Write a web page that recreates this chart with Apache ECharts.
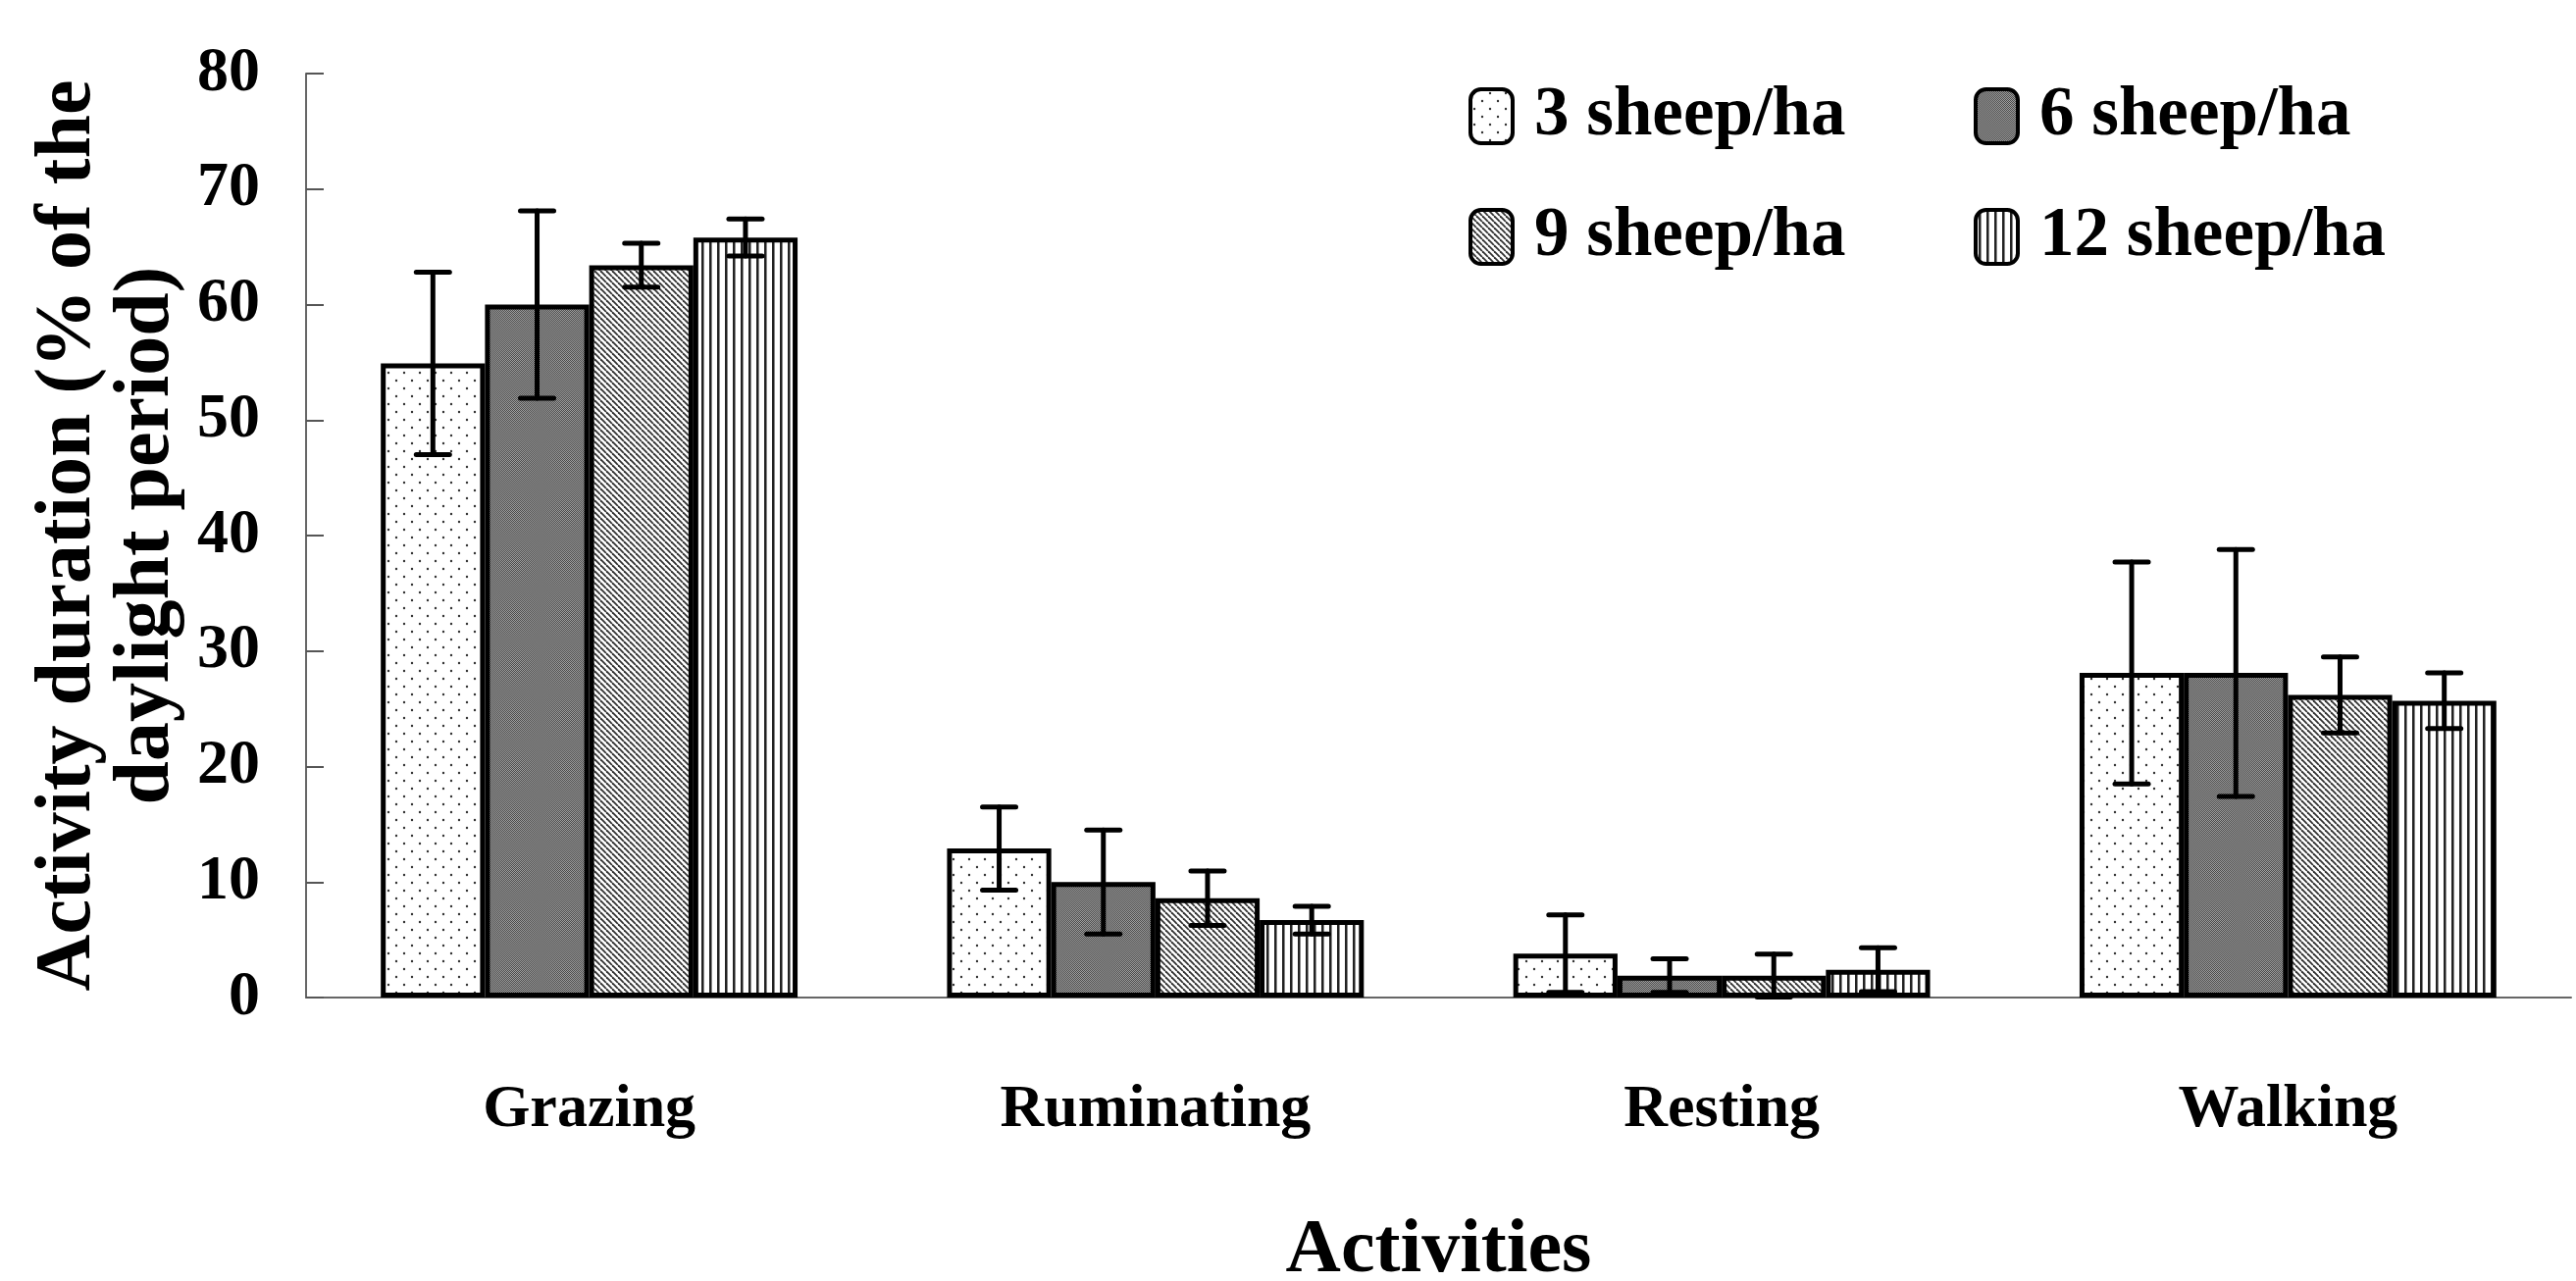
<!DOCTYPE html>
<html>
<head>
<meta charset="utf-8">
<script src="https://cdn.jsdelivr.net/npm/echarts@6/dist/echarts.min.js"></script>
<style>
html,body{margin:0;padding:0;background:#fff;}
#chart{width:2626px;height:1306px;}
</style>
</head>
<body>
<div id="chart"></div>
<script>
// ---- data ----
const categories = ['Grazing', 'Ruminating', 'Resting', 'Walking'];
const seriesNames = ['3 sheep/ha', '6 sheep/ha', '9 sheep/ha', '12 sheep/ha'];
const sheep3  = [54.9, 12.9, 3.8, 28.1];
const sheep6  = [60.0, 10.0, 1.9, 28.1];
const sheep9  = [63.4, 8.6, 1.9, 26.2];
const sheep12 = [65.8, 6.7, 2.4, 25.7];
const err3  = [7.9, 3.6, 3.35, 9.6];
const err6  = [8.1, 4.5, 1.45, 10.7];
const err9  = [1.9, 2.35, 1.85, 3.3];
const err12 = [1.6, 1.2, 1.9, 2.4];
const yTicks = [0, 10, 20, 30, 40, 50, 60, 70, 80];

const values = [sheep3, sheep6, sheep9, sheep12];
const errors = [err3, err6, err9, err12];

// ---- fill patterns ----
function makeTile(w, h, draw) {
  const c = document.createElement('canvas');
  c.width = w; c.height = h;
  const ctx = c.getContext('2d');
  draw(ctx, w, h);
  return c;
}
const dots = makeTile(16, 16, (ctx, w, h) => {
  ctx.fillStyle = '#fff'; ctx.fillRect(0, 0, w, h);
  ctx.fillStyle = '#333';
  ctx.beginPath(); ctx.arc(4, 4, 1.2, 0, Math.PI * 2); ctx.fill();
  ctx.beginPath(); ctx.arc(12, 12, 1.2, 0, Math.PI * 2); ctx.fill();
});
const checker = makeTile(2, 2, (ctx) => {
  ctx.fillStyle = '#a0a0a0'; ctx.fillRect(0, 0, 2, 2);
  ctx.fillStyle = '#4a4a4a'; ctx.fillRect(0, 0, 1, 1); ctx.fillRect(1, 1, 1, 1);
});
const diag = makeTile(6, 6, (ctx, w, h) => {
  ctx.fillStyle = '#fff'; ctx.fillRect(0, 0, w, h);
  ctx.strokeStyle = '#333'; ctx.lineWidth = 1.8;
  for (let k = -1; k <= 1; k++) {
    ctx.beginPath(); ctx.moveTo(k * w, 0); ctx.lineTo(k * w + w, h); ctx.stroke();
  }
});
const vlines = makeTile(8, 8, (ctx, w, h) => {
  ctx.fillStyle = '#fff'; ctx.fillRect(0, 0, w, h);
  ctx.fillStyle = '#222'; ctx.fillRect(3, 0, 2, h);
  ctx.fillStyle = '#888'; ctx.fillRect(5, 0, 1, h);
});
const fills = [
  { image: dots, repeat: 'repeat' },
  { image: checker, repeat: 'repeat' },
  { image: diag, repeat: 'repeat' },
  { image: vlines, repeat: 'repeat' }
];

const FONT = 'Liberation Serif';
const CAT_GAP = 0.264;

const barSeries = seriesNames.map((name, i) => ({
  name: name,
  type: 'bar',
  data: values[i],
  barGap: '0%',
  barCategoryGap: (CAT_GAP * 100) + '%',
  itemStyle: { color: fills[i], borderColor: '#000', borderWidth: 5 },
  emphasis: { disabled: true },
  z: 2
}));

const errSeries = seriesNames.map((name, i) => ({
  name: name + ' error',
  type: 'custom',
  z: 5,
  silent: true,
  data: categories.map((c, j) => [j, values[i][j], errors[i][j]]),
  renderItem: function (params, api) {
    const idx = api.value(0), v = api.value(1), e = api.value(2);
    const catW = api.size([1, 0])[0];
    const barW = catW * (1 - CAT_GAP) / 4;
    const base = api.coord([idx, v]);
    const x = base[0] + (i - 1.5) * barW;
    const yTop = api.coord([idx, v + e])[1];
    const yBot = api.coord([idx, Math.max(v - e, 0)])[1];
    const cap = 17;
    const st = { stroke: '#000', lineWidth: 5, lineCap: 'round' };
    return {
      type: 'group',
      children: [
        { type: 'line', shape: { x1: x, y1: yTop, x2: x, y2: yBot }, style: st },
        { type: 'line', shape: { x1: x - cap, y1: yTop, x2: x + cap, y2: yTop }, style: st },
        { type: 'line', shape: { x1: x - cap, y1: yBot, x2: x + cap, y2: yBot }, style: st }
      ]
    };
  }
}));

const legendPos = [
  { left: 1497, top: 83 },
  { left: 2012, top: 83 },
  { left: 1497, top: 206 },
  { left: 2012, top: 206 }
];
const legends = seriesNames.map((name, i) => ({
  data: [name],
  left: legendPos[i].left,
  top: legendPos[i].top,
  padding: 0,
  itemWidth: 43,
  itemHeight: 55,
  selectedMode: false,
  itemStyle: { borderColor: '#000', borderWidth: 4 },
  textStyle: {
    fontFamily: FONT, fontWeight: 'bold', fontSize: 71, color: '#000',
    lineHeight: 55, padding: [0, 0, 0, 17]
  }
}));

const chart = echarts.init(document.getElementById('chart'), null, { renderer: 'canvas' });
chart.setOption({
  backgroundColor: '#fff',
  animation: false,
  legend: legends,
  grid: { left: 312, right: 5, top: 75, bottom: 289, containLabel: false, outerBoundsMode: 'none' },
  xAxis: {
    type: 'category',
    data: categories,
    name: 'Activities',
    nameLocation: 'middle',
    nameGap: 220,
    nameTextStyle: { fontFamily: FONT, fontWeight: 'bold', fontSize: 78, color: '#000' },
    axisLine: { lineStyle: { color: '#666', width: 2 } },
    axisTick: { inside: true, length: 22, lineStyle: { color: '#444', width: 2 } },
    axisLabel: { margin: 84, fontFamily: FONT, fontWeight: 'bold', fontSize: 62, color: '#000' }
  },
  yAxis: {
    type: 'value',
    min: yTicks[0],
    max: yTicks[yTicks.length - 1],
    interval: yTicks[1] - yTicks[0],
    name: 'Activity duration (% of the\ndaylight period)',
    nameLocation: 'middle',
    nameRotate: 90,
    nameGap: 114,
    nameTextStyle: { fontFamily: FONT, fontWeight: 'bold', fontSize: 80, lineHeight: 80, color: '#000', align: 'center' },
    axisLine: { show: true, lineStyle: { color: '#666', width: 2 } },
    axisTick: { show: true, inside: true, length: 18, lineStyle: { color: '#555', width: 2 } },
    splitLine: { show: false },
    axisLabel: { margin: 47, fontFamily: FONT, fontWeight: 'bold', fontSize: 64, color: '#000' }
  },
  series: barSeries.concat(errSeries)
});
</script>
</body>
</html>
